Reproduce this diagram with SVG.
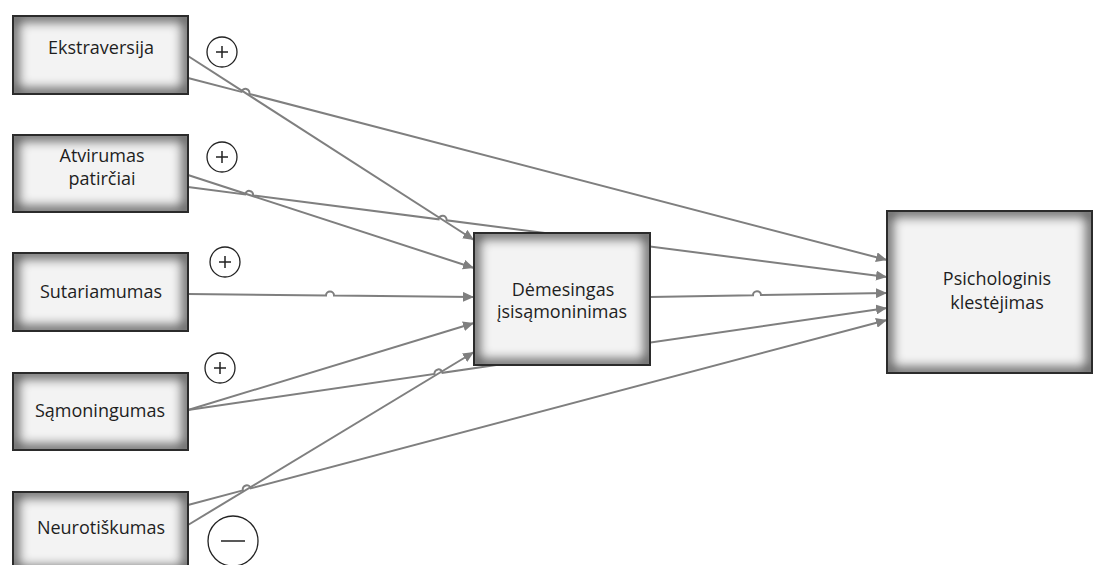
<svg xmlns="http://www.w3.org/2000/svg" width="1094" height="565" viewBox="0 0 1094 565">
  <defs>
    <style>
      .box { fill: #f3f3f3; }
      .shade { fill: none; stroke: #000; stroke-width: 10; opacity: 0.7; }
      .border { fill: none; stroke: #2b2b2b; stroke-width: 2; }
      .lbl { font-family: "Open Sans", "Liberation Sans", sans-serif; font-size: 18px; fill: #1e1e1e; text-anchor: middle; }
      .conn { fill: none; stroke: #7f7f7f; stroke-width: 2; marker-end: url(#arr); }
      .sign { fill: #fff; stroke: #222; stroke-width: 1.3; }
      .sym { stroke: #222; stroke-width: 1.5; fill: none; }
    </style>
    <marker id="arr" markerUnits="userSpaceOnUse" markerWidth="11" markerHeight="10" refX="11" refY="5" orient="auto">
      <path d="M0,0 L11,5 L0,10 z" fill="#7f7f7f"/>
    </marker>
    <filter id="blur" x="-20%" y="-20%" width="140%" height="140%">
      <feGaussianBlur stdDeviation="6"/>
    </filter>
    <clipPath id="c1"><rect x="13" y="16" width="175" height="78"/></clipPath>
    <clipPath id="c2"><rect x="13" y="135" width="175" height="77"/></clipPath>
    <clipPath id="c3"><rect x="13" y="253" width="175" height="78"/></clipPath>
    <clipPath id="c4"><rect x="13" y="373" width="175" height="77"/></clipPath>
    <clipPath id="c5"><rect x="13" y="492" width="175" height="80"/></clipPath>
    <clipPath id="c6"><rect x="474" y="233" width="176" height="132"/></clipPath>
    <clipPath id="c7"><rect x="887" y="211" width="205" height="162"/></clipPath>
  </defs>
  <rect width="1094" height="565" fill="#fff"/>

  <g id="connectors">
    <path class="conn" d="M188,56 L474,240"/>
    <path class="conn" d="M188,78 L241.5,91.9 A4,4 0 0 1 249.3,93.9 L887,260"/>
    <path class="conn" d="M188,175 L474,268"/>
    <path class="conn" d="M188,187 L245.1,194.4 A4,4 0 0 1 253.1,195.4 L438.6,219.3 A4,4 0 0 1 446.6,220.3 L887,277"/>
    <path class="conn" d="M188,294 L326,295.5 A4,4 0 0 1 334,295.5 L474,297"/>
    <path class="conn" d="M188,410 L474,323"/>
    <path class="conn" d="M188,410 L434.5,374 A4,4 0 0 1 442.5,372.8 L887,308"/>
    <path class="conn" d="M188,525 L474,352"/>
    <path class="conn" d="M188,505 L242.9,490.4 A4,4 0 0 1 250.7,488.4 L887,320"/>
    <path class="conn" d="M650,297 L753,295.3 A4,4 0 0 1 761,295.1 L887,293"/>
  </g>

  <g id="ekstraversija">
    <rect class="box" x="13" y="16" width="175" height="78"/>
    <g clip-path="url(#c1)"><rect class="shade" x="13" y="16" width="175" height="78" filter="url(#blur)"/></g>
    <rect class="border" x="13" y="16" width="175" height="78"/>
    <text class="lbl" x="101" y="54">Ekstraversija</text>
  </g>
  <g id="atvirumas">
    <rect class="box" x="13" y="135" width="175" height="77"/>
    <g clip-path="url(#c2)"><rect class="shade" x="13" y="135" width="175" height="77" filter="url(#blur)"/></g>
    <rect class="border" x="13" y="135" width="175" height="77"/>
    <text class="lbl" x="102" y="162">Atvirumas</text>
    <text class="lbl" x="102" y="185">patirčiai</text>
  </g>
  <g id="sutariamumas">
    <rect class="box" x="13" y="253" width="175" height="78"/>
    <g clip-path="url(#c3)"><rect class="shade" x="13" y="253" width="175" height="78" filter="url(#blur)"/></g>
    <rect class="border" x="13" y="253" width="175" height="78"/>
    <text class="lbl" x="101" y="298">Sutariamumas</text>
  </g>
  <g id="samoningumas">
    <rect class="box" x="13" y="373" width="175" height="77"/>
    <g clip-path="url(#c4)"><rect class="shade" x="13" y="373" width="175" height="77" filter="url(#blur)"/></g>
    <rect class="border" x="13" y="373" width="175" height="77"/>
    <text class="lbl" x="100" y="417">Sąmoningumas</text>
  </g>
  <g id="neurotiskumas">
    <rect class="box" x="13" y="492" width="175" height="80"/>
    <g clip-path="url(#c5)"><rect class="shade" x="13" y="492" width="175" height="80" filter="url(#blur)"/></g>
    <rect class="border" x="13" y="492" width="175" height="80"/>
    <text class="lbl" x="101" y="534">Neurotiškumas</text>
  </g>
  <g id="demesingas">
    <rect class="box" x="474" y="233" width="176" height="132"/>
    <g clip-path="url(#c6)"><rect class="shade" x="474" y="233" width="176" height="132" filter="url(#blur)"/></g>
    <rect class="border" x="474" y="233" width="176" height="132"/>
    <text class="lbl" x="563" y="296">Dėmesingas</text>
    <text class="lbl" x="562" y="318">įsisąmoninimas</text>
  </g>
  <g id="psichologinis">
    <rect class="box" x="887" y="211" width="205" height="162"/>
    <g clip-path="url(#c7)"><rect class="shade" x="887" y="211" width="205" height="162" filter="url(#blur)"/></g>
    <rect class="border" x="887" y="211" width="205" height="162"/>
    <text class="lbl" x="997" y="285">Psichologinis</text>
    <text class="lbl" x="997" y="309">klestėjimas</text>
  </g>

  <g id="signs">
    <circle class="sign" cx="222" cy="52" r="15"/>
    <path class="sym" d="M216,52 H228 M222,46 V58"/>
    <circle class="sign" cx="222" cy="157" r="15"/>
    <path class="sym" d="M216,157 H228 M222,151 V163"/>
    <circle class="sign" cx="225" cy="262" r="15"/>
    <path class="sym" d="M219,262 H231 M225,256 V268"/>
    <circle class="sign" cx="220" cy="368" r="15"/>
    <path class="sym" d="M214,368 H226 M220,362 V374"/>
    <circle class="sign" cx="233" cy="541" r="25"/>
    <path class="sym" d="M221,541 H245" stroke-width="2.5"/>
  </g>
</svg>
